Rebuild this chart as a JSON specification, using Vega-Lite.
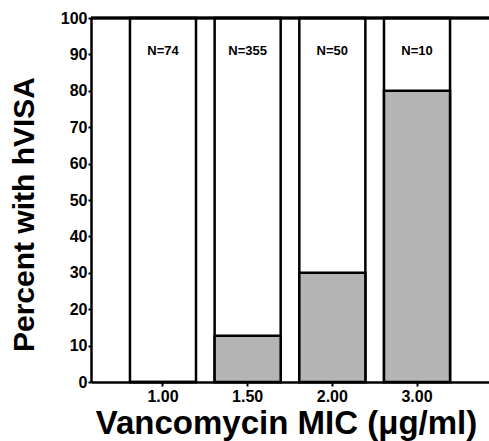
{
  "$schema": "https://vega.github.io/schema/vega-lite/v6.json",
  "width": 398,
  "height": 364,
  "autosize": "none",
  "padding": {"left": 91, "top": 18, "right": 0, "bottom": 59},
  "background": "white",
  "config": {
    "view": {"stroke": null},
    "font": "Liberation Sans",
    "axisY": {
      "values": [0, 10, 20, 30, 40, 50, 60, 70, 80, 90, 100],
      "grid": false, "labelFlush": false, "labelOverlap": false,
      "labelFont": "Liberation Sans", "labelFontSize": 16, "labelFontWeight": "bold", "labelColor": "black", "labelPadding": 1,
      "tickSize": 3, "tickWidth": 2, "tickColor": "black", "domainColor": "black", "domainWidth": 2.5,
      "titleFont": "Liberation Sans", "titleFontSize": 30, "titleFontWeight": "bold", "titleColor": "black", "titlePadding": 21, "titleY": 196
    },
    "axisX": {
      "labelAngle": 0, "labelFont": "Liberation Sans", "labelFontSize": 16, "labelFontWeight": "bold", "labelColor": "black",
      "tickSize": 4, "tickWidth": 2, "tickColor": "black", "domainColor": "black", "domainWidth": 2.5,
      "labelPadding": 2,
      "titleFont": "Liberation Sans", "titleFontSize": 33, "titleFontWeight": "bold", "titleColor": "black", "titlePadding": 3, "titleX": 195
    }
  },
  "data": {
    "values": [
      {"mic": "1.00", "pct": 0, "label": "N=74"},
      {"mic": "1.50", "pct": 12.7, "label": "N=355"},
      {"mic": "2.00", "pct": 30, "label": "N=50"},
      {"mic": "3.00", "pct": 80, "label": "N=10"}
    ]
  },
  "layer": [
    {
      "mark": {"type": "bar", "fill": "white", "stroke": "black", "strokeWidth": 2.5},
      "encoding": {
        "x": {
          "field": "mic", "type": "ordinal",
          "scale": {"paddingInner": 0.22, "paddingOuter": 0.46},
          "axis": {"title": "Vancomycin MIC (μg/ml)"}
        },
        "y": {
          "datum": 100, "type": "quantitative",
          "scale": {"domain": [0, 100], "nice": false},
          "axis": {"title": "Percent with hVISA", "values": [0, 10, 20, 30, 40, 50, 60, 70, 80, 90, 100]}
        }
      }
    },
    {
      "mark": {"type": "bar", "fill": "#b4b4b4", "stroke": "black", "strokeWidth": 2.5},
      "encoding": {
        "x": {"field": "mic", "type": "ordinal", "axis": {"title": "Vancomycin MIC (μg/ml)"}},
        "y": {"field": "pct", "type": "quantitative", "axis": {"title": "Percent with hVISA", "values": [0, 10, 20, 30, 40, 50, 60, 70, 80, 90, 100]}}
      }
    },
    {
      "mark": {"type": "rule", "stroke": "black", "strokeWidth": 2.5},
      "encoding": {"y": {"datum": 100, "type": "quantitative", "axis": {"title": "Percent with hVISA", "values": [0, 10, 20, 30, 40, 50, 60, 70, 80, 90, 100]}}}
    },
    {
      "mark": {"type": "text", "font": "Liberation Sans", "fontWeight": "bold", "fontSize": 13, "color": "black"},
      "encoding": {
        "x": {"field": "mic", "type": "ordinal", "axis": {"title": "Vancomycin MIC (μg/ml)"}},
        "y": {"datum": 91, "type": "quantitative", "axis": {"title": "Percent with hVISA", "values": [0, 10, 20, 30, 40, 50, 60, 70, 80, 90, 100]}},
        "text": {"field": "label"}
      }
    }
  ]
}
